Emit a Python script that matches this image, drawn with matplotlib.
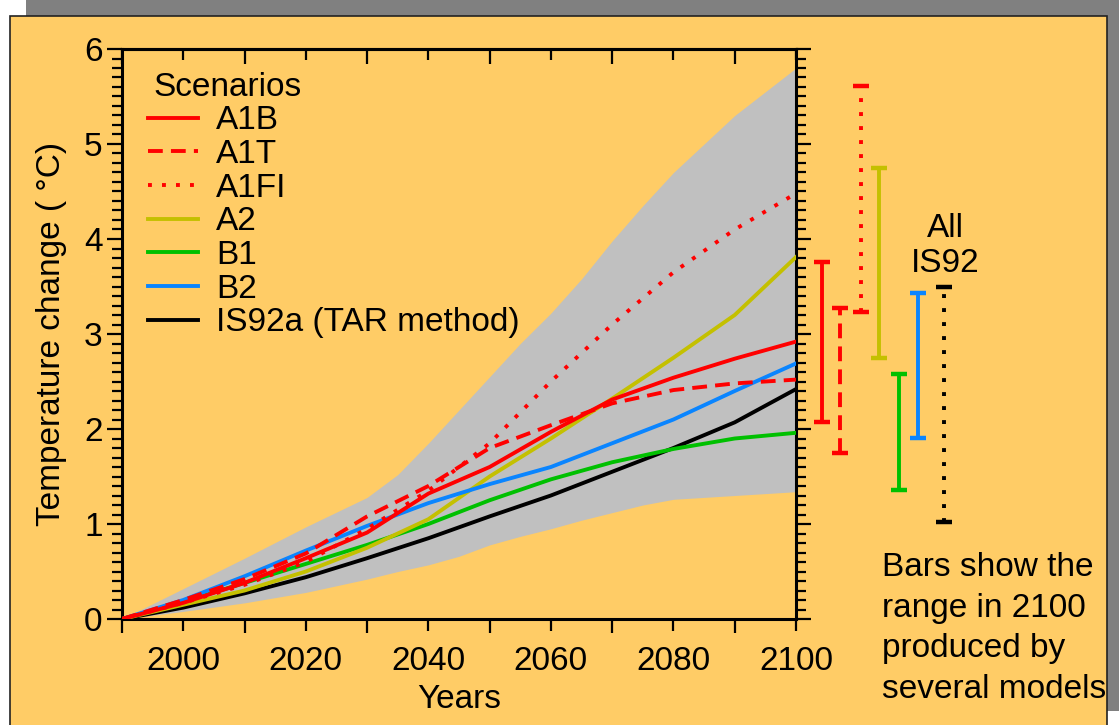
import matplotlib.pyplot as plt
from matplotlib.patches import Rectangle
from matplotlib.ticker import MultipleLocator

plt.rcParams['font.family'] = ['Liberation Sans', 'DejaVu Sans']

# projected warming (deg C) relative to 1990
years = [1990, 2000, 2010, 2020, 2030, 2040, 2050, 2060, 2070, 2080, 2090, 2100]
a1b = [0, 0.17, 0.38, 0.64, 0.91, 1.32, 1.60, 1.97, 2.31, 2.54, 2.74, 2.92]
a1t = [0, 0.20, 0.42, 0.69, 1.08, 1.40, 1.80, 2.04, 2.27, 2.41, 2.48, 2.52]
a1fi = [0, 0.17, 0.36, 0.60, 0.95, 1.35, 1.85, 2.50, 3.10, 3.65, 4.10, 4.48]
a2 = [0, 0.15, 0.30, 0.50, 0.75, 1.05, 1.50, 1.90, 2.32, 2.75, 3.20, 3.81]
b1 = [0, 0.18, 0.38, 0.58, 0.78, 1.00, 1.25, 1.47, 1.65, 1.79, 1.90, 1.96]
b2 = [0, 0.20, 0.45, 0.72, 0.98, 1.22, 1.42, 1.60, 1.85, 2.10, 2.40, 2.69]
is92a = [0, 0.12, 0.27, 0.44, 0.64, 0.85, 1.08, 1.30, 1.55, 1.80, 2.07, 2.42]

# envelope of all SRES scenarios / models
env_years = [1990, 2000, 2010, 2020, 2030, 2035, 2040, 2045, 2050, 2055, 2060,
             2065, 2070, 2075, 2080, 2085, 2090, 2095, 2100]
env_low = [0, 0.08, 0.17, 0.28, 0.42, 0.50, 0.57, 0.66, 0.78, 0.87, 0.95,
           1.04, 1.12, 1.20, 1.26, 1.28, 1.30, 1.32, 1.34]
env_high = [0, 0.32, 0.64, 0.97, 1.28, 1.52, 1.85, 2.20, 2.55, 2.90, 3.22,
            3.58, 3.98, 4.35, 4.70, 5.00, 5.30, 5.55, 5.80]

# range in 2100 from several models
bar_names = ['A1B', 'A1T', 'A1FI', 'A2', 'B1', 'B2', 'IS92']
bar_low = [2.07, 1.75, 3.23, 2.75, 1.36, 1.91, 1.02]
bar_high = [3.76, 3.27, 5.61, 4.75, 2.58, 3.43, 3.50]

bar_x = [2104.2, 2107.2, 2110.6, 2113.6, 2116.8, 2119.9, 2124.2]
red, olive, green, blue = '#FF0000', '#C4C000', '#00C000', '#0A85FF'
bar_col = [red, red, red, olive, green, blue, 'black']
dash = (0, (3.8, 2.1))
dot = (0, (1, 2.6))
bar_ls = ['-', dash, dot, '-', '-', '-', dot]

fig = plt.figure(figsize=(11.19, 7.25), dpi=100)
fig.patch.set_facecolor('white')
fig.add_artist(Rectangle((26/1119, 1-711/725), 1.1, 711/725, transform=fig.transFigure,
                         facecolor='#808080', edgecolor='none', zorder=-3))
fig.add_artist(Rectangle((10/1119, -0.01), 1097/1119, 1-16/725+0.01, transform=fig.transFigure,
                         facecolor='#FFCC66', edgecolor='#222222', lw=1.2, zorder=-2))

ax = fig.add_axes([122/1119, 106/725, 674/1119, 570/725])
ax.set_facecolor('none')

ax.fill_between(env_years, env_low, env_high, color='#C0C0C0', lw=0, zorder=1)
lw = 2.8
ax.plot(years, is92a, color='black', lw=lw, label='IS92a (TAR method)', zorder=3)
ax.plot(years, b1, color=green, lw=lw, label='B1', zorder=3)
ax.plot(years, a2, color=olive, lw=lw, label='A2', zorder=3)
ax.plot(years, b2, color=blue, lw=lw, label='B2', zorder=3)
ax.plot(years, a1b, color=red, lw=lw, label='A1B', zorder=4)
ax.plot(years, a1t, color=red, lw=lw, ls=dash, label='A1T', zorder=4)
ax.plot(years, a1fi, color=red, lw=lw, ls=dot, label='A1FI', zorder=4)

for x, lo, hi, c, ls in zip(bar_x, bar_low, bar_high, bar_col, bar_ls):
    ax.plot([x, x], [lo, hi], color=c, lw=lw, ls=ls, clip_on=False)
    ax.plot([x - 1.3, x + 1.3], [lo, lo], color=c, lw=lw + 0.4, clip_on=False, solid_capstyle='butt')
    ax.plot([x - 1.3, x + 1.3], [hi, hi], color=c, lw=lw + 0.4, clip_on=False, solid_capstyle='butt')

ax.set_xlim(1990, 2100)
ax.set_ylim(0, 6)
ax.set_xticks([2000, 2020, 2040, 2060, 2080, 2100])
ax.xaxis.set_minor_locator(MultipleLocator(10))
ax.yaxis.set_major_locator(MultipleLocator(1))
ax.yaxis.set_minor_locator(MultipleLocator(0.1))
for s in ax.spines.values():
    s.set_linewidth(2.2)

ax.tick_params(axis='x', which='major', direction='out', length=8.5, width=1.6,
               labelsize=24, pad=11)
ax.tick_params(axis='x', which='minor', direction='out', length=10, width=1.6)
ax.tick_params(axis='y', which='major', direction='out', length=11, width=1.6,
               labelsize=24, pad=3, left=True, right=True)
ax.tick_params(axis='y', which='minor', direction='out', length=7, width=1.6,
               left=True, right=True)

top = ax.secondary_xaxis('top')
top.set_xticks([2000, 2020, 2040, 2060, 2080, 2100])
top.xaxis.set_minor_locator(MultipleLocator(10))
top.tick_params(which='major', direction='in', length=8, width=1.6, labeltop=False)
top.tick_params(which='minor', direction='in', length=11, width=1.6)
top.spines['top'].set_linewidth(2.2)

ax.set_xlabel('Years', fontsize=24, labelpad=5)
ax.set_ylabel('Temperature change ( °C)', fontsize=24, labelpad=12)

h, l = ax.get_legend_handles_labels()
order = ['A1B', 'A1T', 'A1FI', 'A2', 'B1', 'B2', 'IS92a (TAR method)']
hh = [h[l.index(o)] for o in order]
leg = ax.legend(hh, order, title='Scenarios', loc='upper left', bbox_to_anchor=(0.038, 0.96),
                frameon=False, fontsize=24, title_fontsize=24, handlelength=1.5,
                handletextpad=0.55, labelspacing=0.08, borderpad=0, borderaxespad=0,
                alignment='left')
leg.get_title().set_position((6, 0))

fig.text(945/1119, 1-246/725, 'All\nIS92', fontsize=24, ha='center', va='center',
         linespacing=1.15)
fig.text(882/1119, 1-552/725, 'Bars show the\nrange in 2100\nproduced by\nseveral models',
         fontsize=24, ha='left', va='top', linespacing=1.4)

fig.savefig('out.png', dpi=100)
